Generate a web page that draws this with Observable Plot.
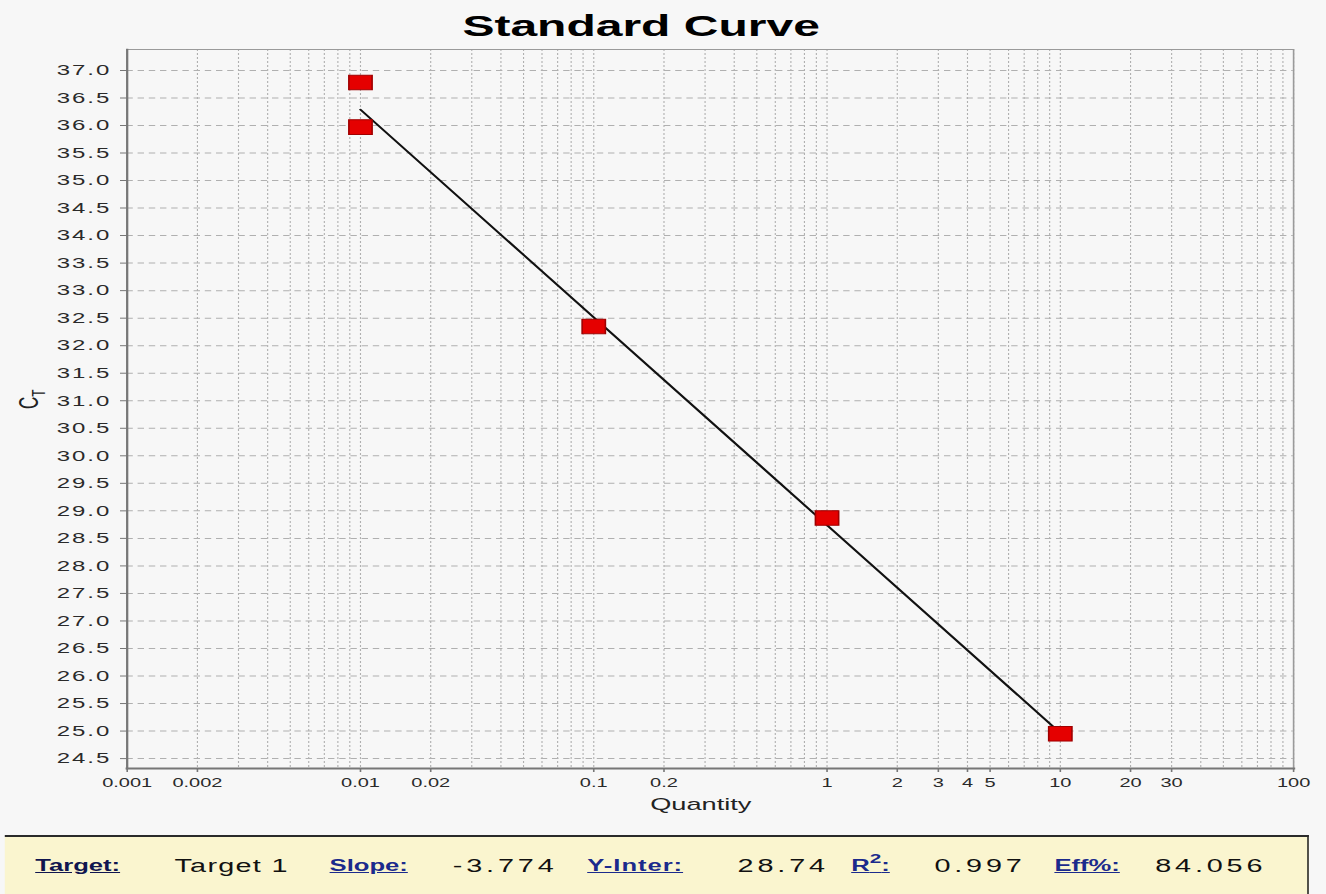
<!DOCTYPE html>
<html>
<head>
<meta charset="utf-8">
<script src="https://cdn.jsdelivr.net/npm/d3@7"></script>
<script src="https://cdn.jsdelivr.net/npm/@observablehq/plot@0.6"></script>
<style>
  html, body { margin: 0; padding: 0; background: #f7f7f7; overflow: hidden; }
  #wrap { position: relative; width: 829px; height: 894px; transform: scaleX(1.6); transform-origin: 0 0;
          font-family: "Liberation Sans", Arial, sans-serif; }
  #title { position: absolute; left: 289px; top: 11px; font-size: 30px; line-height: 30px; font-weight: bold; color: #000; white-space: nowrap; }
  #chart { position: absolute; left: 0; top: 44px; }
  #panel { position: absolute; left: 3px; top: 835px; width: 815px; height: 59px; background: #faf5cf;
           border-top: 2px solid #2a2a2a; border-right: 1.3px solid #2a2a2a; box-sizing: border-box; }
  #panel span { position: absolute; top: 19px; line-height: 20px; white-space: nowrap; }
  .lab { font-weight: bold; font-size: 16px; text-decoration: underline; color: #1b2a8c; }
  .val { font-size: 18px; color: #111; letter-spacing: 2.4px; }
  svg g[aria-label="y-axis tick label"] { font-size: 15px; letter-spacing: 1.2px; fill: #2a2a2a; }
</style>
</head>
<body>
<div id="wrap">
  <div id="title">Standard Curve</div>
  <div id="chart"></div>
  <div id="panel"></div>
</div>
<script>
// ---- data ----
const quantities = [0.01, 0.01, 0.1, 1, 10];
const ctValues = [36.78, 35.97, 32.35, 28.87, 24.95];
const slope = -3.774;
const yIntercept = 28.74;
const fitRange = [0.01, 10];
const xTickValues = [0.001, 0.002, 0.01, 0.02, 0.1, 0.2, 1, 2, 3, 4, 5, 10, 20, 30, 100];
const xTickLabels = ["0.001", "0.002", "0.01", "0.02", "0.1", "0.2", "1", "2", "3", "4", "5", "10", "20", "30", "100"];
const yTickValues = [24.5, 25, 25.5, 26, 26.5, 27, 27.5, 28, 28.5, 29, 29.5, 30, 30.5, 31, 31.5, 32, 32.5, 33, 33.5, 34, 34.5, 35, 35.5, 36, 36.5, 37];
const decades = [0.001, 0.01, 0.1, 1, 10];
const multipliers = [1, 2, 3, 4, 5, 6, 7, 8, 9];
const panelItems = [
  {text: "Target:", kind: "lab", x: 19, color: "#10154f"},
  {text: "Target 1", kind: "val", x: 106, spacing: "0.8px"},
  {text: "Slope:", kind: "lab", x: 203},
  {text: "-3.774", kind: "val", x: 280},
  {text: "Y-Inter:", kind: "lab", x: 364, spacing: "0.6px"},
  {text: "28.74", kind: "val", x: 458},
  {text: "R<sup style='font-size:13px;vertical-align:8px;line-height:0'>2</sup>:", kind: "lab", x: 529, html: true},
  {text: "0.997", kind: "val", x: 581},
  {text: "Eff%:", kind: "lab", x: 656},
  {text: "84.056", kind: "val", x: 719}
];

// ---- build ----
const points = quantities.map((q, i) => ({q, ct: ctValues[i]}));
const fit = fitRange.map(q => ({q, ct: yIntercept + slope * Math.log10(q)}));
const gridXValues = decades.flatMap(d => multipliers.map(m => m * d)).concat([100]);
const xLabels = xTickValues.map((v, i) => ({v, label: xTickLabels[i]}));

const plot = Plot.plot({
  width: 829,
  height: 791,
  marginTop: 5,
  marginBottom: 67,
  marginLeft: 79,
  marginRight: 21,
  style: {background: "transparent", fontFamily: "'Liberation Sans', Arial, sans-serif", color: "#444"},
  x: {type: "log", domain: [0.001, 100]},
  y: {domain: [24.32, 37.38]},
  marks: [
    Plot.gridX(gridXValues, {stroke: "#b0b0b0", strokeOpacity: 1, strokeWidth: 0.7, strokeDasharray: "2,2"}),
    Plot.gridY(yTickValues, {stroke: "#b0b0b0", strokeOpacity: 1, strokeWidth: 1, strokeDasharray: "4,3"}),
    Plot.frame({stroke: "#9a9a9a", strokeWidth: 1}),
    Plot.frame({anchor: "left", stroke: "#777", strokeWidth: 1.4}),
    Plot.frame({anchor: "bottom", stroke: "#777", strokeWidth: 2}),
    Plot.axisX({ticks: xTickValues, tickSize: 4, text: null, label: null, stroke: "#777"}),
    Plot.text(xLabels, {x: "v", text: "label", frameAnchor: "bottom", dy: 18, fontSize: 12.5, fill: "#2a2a2a"}),
    Plot.axisY({ticks: yTickValues, tickFormat: d => d.toFixed(1), tickSize: 4, tickPadding: 6, label: null, stroke: "#777"}),
    Plot.text(["Quantity"], {frameAnchor: "bottom", dy: 41, dx: -6, fontSize: 17, fill: "#222"}),
    Plot.text(["CT"], {frameAnchor: "left", dx: -61, rotate: -90, fontSize: 17, fill: "#222"}),
    Plot.line(fit, {x: "q", y: "ct", stroke: "#111", strokeWidth: 1.6}),
    Plot.dot(points, {x: "q", y: "ct", symbol: "square", r: 8.2, fill: "#e50000", stroke: "#a00000", strokeWidth: 1})
  ]
});

// subscript T in the y label
d3.select(plot).selectAll("text").filter(function() { return this.textContent === "CT"; })
  .each(function() {
    const t = d3.select(this);
    t.text("");
    t.append("tspan").text("C");
    t.append("tspan").attr("font-size", 12).attr("dy", 4).text("T");
  });

document.getElementById("chart").appendChild(plot);

const panel = document.getElementById("panel");
for (const it of panelItems) {
  const s = document.createElement("span");
  s.className = it.kind;
  s.style.left = it.x + "px";
  if (it.color) s.style.color = it.color;
  if (it.spacing) s.style.letterSpacing = it.spacing;
  if (it.html) s.innerHTML = it.text; else s.textContent = it.text;
  panel.appendChild(s);
}
</script>
</body>
</html>
